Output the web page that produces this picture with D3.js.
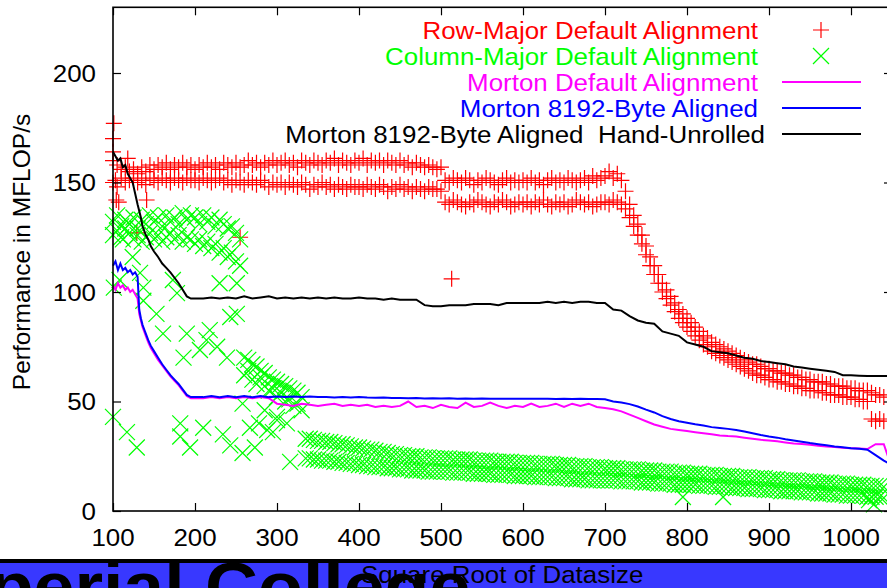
<!DOCTYPE html>
<html>
<head>
<meta charset="utf-8">
<script src="https://cdn.jsdelivr.net/npm/d3@7"></script>
<style>
  body { margin: 0; background: #fff; }
  svg { display: block; font-family: "Liberation Sans", Arial, Helvetica, sans-serif; }
  svg text { white-space: pre; }
</style>
</head>
<body>
<div id="chart"></div>
<script>
// Data
const xTicks = [100, 200, 300, 400, 500, 600, 700, 800, 900, 1000]
const yTicks = [0, 50, 100, 150, 200]

const legendLabels = [
  'Row-Major Default Alignment',
  'Column-Major Default Alignment',
  'Morton Default Alignment',
  'Morton 8192-Byte Aligned',
  'Morton 8192-Byte Aligned  Hand-Unrolled'
]
const legendColors = ['#ff0000', '#00ff00', '#ff00ff', '#0000ff', '#000000']

// sizes for the two point series (every 5)
const pointX = d3.range(100, 1041, 5)

const rowMajorHigh = [
  160,158,156,157,155,156,154,157,155,158,156,158,157,159,156,158,157,159,157,158,
  156,158,157,159,157,158,156,159,158,157,159,157,158,160,158,159,157,159,158,160,
  158,159,160,158,159,157,160,159,158,160,159,158,160,159,161,158,160,159,158,160,
  159,161,158,160,159,160,158,160,159,158,160,158,159,157,159,158,157,158,157,156,
  157,151,150,152,151,150,152,151,149,151,150,152,151,150,149,151,152,150,151,150,
  151,150,152,150,151,149,151,152,150,151,150,152,151,150,151,152,150,153,151,152,
  153,155,152,154,151,146,140,135,131,126,121,116,112,108,104,101,98,95,92,90,
  88,86,84,82,80,79,77,76,75,74,73,72,71,70,69,68,67,67,66,65,
  65,64,64,63,63,62,62,61,61,60,60,59,59,59,58,58,57,57,57,56,
  56,56,55,55,55,54,53,53,52
]
const rowMajorLow = [
  150,148,152,150,151,152,150,151,149,152,151,150,152,151,150,152,151,150,152,151,
  151,150,152,151,150,151,152,150,151,149,151,150,149,151,150,149,151,150,148,150,
  149,150,148,150,149,148,150,149,147,149,148,150,148,149,147,149,148,147,149,148,
  148,147,149,148,147,149,148,146,148,147,149,147,148,146,148,147,146,148,147,147,
  146,141,140,142,141,140,139,141,140,142,141,140,139,141,140,142,141,139,140,141,
  140,141,139,141,140,142,140,139,141,140,141,139,140,142,141,140,141,139,140,141,
  141,140,142,141,140,138,134,130,126,122,117,112,108,104,100,97,94,91,88,86,
  84,82,80,78,76,75,73,72,71,70,69,68,67,66,65,64,63,62,62,61,
  60,60,59,59,58,58,57,57,56,56,55,55,55,54,54,53,53,53,52,52,
  52,51,51,50,50,42,41,42,41
]
const rowMajorOddX = [101, 100, 100, 103, 104, 107, 118, 141, 129, 255, 513]
const rowMajorOddY = [177, 170, 164, 151, 142, 141, 161, 142, 127, 125, 106]

const colMajorHigh = [
  132,135,130,133,131,134,129,133,131,135,132,134,130,135,132,134,131,136,133,135,
  134,131,135,132,134,130,133,131,129,130,127,124,70,69,67,66,64,63,61,60,
  59,58,57,56,55,54,52,33,33,32.5,32,32,31.5,31.5,31,30.5,30.5,30,29.5,29,
  29,28.5,28,28,27.5,27,27,26.5,26,26,25.5,25.5,25,25,25,24.5,24.5,24.5,24,24,
  24,24,24,23.5,23.5,23.5,23.5,23.5,23,23,23,23,23,22.5,22.5,22.5,22.5,22.5,22,22,
  22,22,22,21.5,21.5,21.5,21.5,21.5,21,21,21,21,20.5,20.5,20.5,20.5,20,20,20,20,
  19.5,19.5,19.5,19.5,19,19,19,19,19,18.5,18.5,18.5,18.5,18,18,18,18,17.5,17.5,17.5,
  17,17,17,17,16.5,16.5,16.5,16.5,16,16,16,16,15.5,15.5,15.5,15.5,15,15,15,15,
  14.5,14.5,14.5,14,14,14,14,14,13.5,13.5,13.5,13.5,13,13,13,13,12.5,12.5,12.5,12.5,
  12,12,12,12,11.5,11.5,11.5,11.5,11
]
const colMajorLow = [
  126,128,125,129,127,124,126,123,125,127,124,126,123,125,127,124,126,123,125,124,
  122,124,121,123,120,122,118,120,116,118,114,112,62,64,60,58,61,57,55,56,
  52,54,50,51,48,49,46,24,24,23.5,23.5,23,23,23,22.5,22.5,22,22,21.5,21.5,
  21,21,20.5,20.5,20,20,20,19.5,19.5,19.5,19,19,19,18.5,18.5,18.5,18.5,18,18,18,
  18,18,18,17.5,17.5,17.5,17.5,17.5,17,17,17,17,17,16.5,16.5,16.5,16.5,16.5,16,16,
  16,16,16,15.5,15.5,15.5,15.5,15.5,15,15,15,15,14.5,14.5,14.5,14.5,14,14,14,14,
  14,14,14,14,13.5,13.5,13.5,13.5,13.5,13,13,13,13,12.5,12.5,12.5,12.5,12,12,12,
  12,12,12,11.5,11.5,11.5,11.5,11,11,11,11,10.5,10.5,10.5,10.5,10,10,10,10,9.5,
  9.5,9.5,9.5,9,9,9,9,9,8.5,8.5,8.5,8.5,8,8,8,8,7.5,7.5,7.5,7,
  7,7,7,7,6.5,6.5,6.5,6.5,6
]
const colMajorOddX = [101,100,117,129,182,182,194,210,234,243,258,267,273,288,300,316,
  137,153,178,161,186,190,218,227,230,251,243,239,206,214,108,137,173,112,124,133,
  251,258,285,300,312,278,295,795,844,1022,1028]
const colMajorOddY = [102,43,36,29,40,34,29,38,35,30,26.5,38,29,37,41.5,22.4,
  96,90,99.5,81,70,81,82.6,75,104,104,88.6,70,73.5,78,105.5,102,105.5,124,116,108.7,
  90,49,46,43,40,40,36,6.4,6.4,5,3]

// sizes for the three line series
const lineX = [100,103,106,109,112,115,118,121,124,127,130,132,134,136,138,140,143,146,
  150,155,160,165,170,175,180,185,190,195,200].concat(d3.range(210, 1041, 10), [1045])

const mortonDefault = [
  103,101,104,102,103,101,102,100,101,99,97,90,87,84,82,80,77,74.5,72,69,66.5,64,61.5,59.5,57.5,55,52.5,51.5,51.5,
  51.5,52,51.5,52,51.5,52,51.5,52,51.5,49,
  48.5,48,49,48.5,48,48.5,49,48,48.5,48,
  48.5,47.5,48,47.5,48,50,47.5,48,47,48.5,
  47.5,47,49.5,47.5,48,49.5,48,47,48,47.5,
  49,47.5,48,49,47.5,49,48,49,47.5,47,
  46.5,45.5,44,42.5,41,39.5,38.5,37.5,37,36.5,
  36,35.5,35,34.5,34.2,34,33.5,33,32.5,32.2,
  31.8,31.3,30.8,30.6,30.2,29.8,29.4,29.2,28.9,28.7,
  28.5,28.3,30.5,30.5,
  25
]
const morton8192 = [
  112,114,110,113,110,111,109,110,108,109,107,92,88,85,83,81,78,75.5,73,70,67,64.5,62,60,58,55.5,53,52,52,
  52,52.5,52,52.5,52,52.5,52,52.5,52,52.3,
  52,52.3,52,52.3,52,52,51.8,52,51.8,52,
  51.8,51.7,51.8,51.6,51.6,51.5,51.6,51.4,51.5,51.4,
  51.5,51.3,51.4,51.3,51.4,51.2,51.3,51.2,51.3,51.2,
  51.2,51.3,51.2,51.1,51.2,51.1,51.2,51.1,51.1,51,
  50,49.5,48.8,47.7,46.3,45,43.3,42,41,40.3,
  39.6,39,38.3,37.9,37.5,37,36.3,35.5,34.7,34,
  33.5,32.8,32.2,31.6,31,30.5,30,29.5,29.1,28.7,
  28.4,28,25.5,23,
  22
]
const handUnrolled = [
  164,162,160,161,157,158,154,152,150,145,140,137,134,130,128,126,124,121,118.5,116,113,111,109,106.5,104,101,98,97,97,
  97,97.5,97,97.5,97,98,97,97.5,98,97,
  97.5,97,97.5,97,97.5,97,97.5,97,97,97.5,
  97,97,96.5,97,96.5,96.5,96.5,94,93.5,93.5,
  94,94,94,94.5,94.5,94.5,94,95,95,95,
  95,95,95.5,95,95.5,95,95.5,95.5,95,95,
  92,91.5,89,87,86,85.5,82,81,80,77,
  76,75,73,72.5,72,71,70,69.5,68.5,68,
  67.5,67,66,65.5,65,64.5,64,63.5,62,62,
  61.8,61.6,61.6,61.6,
  61.6
]

// Dimensions
const width = 887
const height = 588
const stretch = 1.08
const font = 24

const svg = d3.select('#chart')
  .append('svg')
  .attr('width', width)
  .attr('height', height)

// Scales
const x = d3.scaleLinear().domain([100, 1050]).range([113, 892])
const y = d3.scaleLinear().domain([0, 230]).range([511, 7.3])

const plusPath = 'M-8,0H8M0,-8V8'
const crossPath = 'M-8,-8L8,8M-8,8L8,-8'

function text(parent, tx, ty, str, anchor) {
  return parent.append('g')
    .attr('transform', `translate(${tx},${ty}) scale(${stretch},1)`)
    .append('text')
    .attr('text-anchor', anchor)
    .attr('font-size', font)
    .text(str)
}

// Points
function points(xs, ys, path, color) {
  svg.append('g')
    .attr('fill', 'none')
    .attr('stroke', color)
    .attr('stroke-width', 1.2)
    .selectAll('path')
    .data(xs.map((d, i) => [d, ys[i]]))
    .join('path')
    .attr('transform', d => `translate(${x(d[0])},${y(d[1])})`)
    .attr('d', path)
}

points(pointX, rowMajorHigh, plusPath, '#ff0000')
points(pointX, rowMajorLow, plusPath, '#ff0000')
points(rowMajorOddX, rowMajorOddY, plusPath, '#ff0000')
points(pointX, colMajorHigh, crossPath, '#00ff00')
points(pointX, colMajorLow, crossPath, '#00ff00')
points(colMajorOddX, colMajorOddY, crossPath, '#00ff00')

// Lines
const line = d3.line()
  .x((d, i) => x(lineX[i]))
  .y(d => y(d))

;[[mortonDefault, '#ff00ff'], [morton8192, '#0000ff'], [handUnrolled, '#000000']].forEach(([vals, color]) => {
  svg.append('path')
    .attr('d', line(vals))
    .attr('fill', 'none')
    .attr('stroke', color)
    .attr('stroke-width', 2)
})

// Frame and ticks
const tickStyle = g => {
  g.select('.domain').remove()
  g.selectAll('.tick line').attr('stroke', '#000').attr('stroke-width', 1.2)
  g.selectAll('.tick text').remove()
}
svg.append('g').attr('transform', `translate(0,${y(0)})`)
  .call(d3.axisBottom(x).tickValues(xTicks).tickSize(-8)).call(tickStyle)
svg.append('g').attr('transform', `translate(0,${y(230)})`)
  .call(d3.axisTop(x).tickValues(xTicks).tickSize(-8)).call(tickStyle)
svg.append('g').attr('transform', `translate(${x(100)},0)`)
  .call(d3.axisLeft(y).tickValues(yTicks).tickSize(-8)).call(tickStyle)
svg.append('g').attr('transform', `translate(${x(1050)},0)`)
  .call(d3.axisRight(y).tickValues(yTicks).tickSize(-8)).call(tickStyle)

svg.append('rect')
  .attr('x', x(100))
  .attr('y', y(230))
  .attr('width', x(1050) - x(100))
  .attr('height', y(0) - y(230))
  .attr('fill', 'none')
  .attr('stroke', '#000')
  .attr('stroke-width', 1.6)

// Tick labels
xTicks.forEach(t => text(svg, x(t), 546, t, 'middle'))
yTicks.forEach(t => text(svg, 96, y(t) + 8.5, t, 'end'))

// Y label
svg.append('text')
  .attr('transform', 'translate(30,252) rotate(-90)')
  .attr('text-anchor', 'middle')
  .attr('font-size', 24.5)
  .text('Performance in MFLOP/s')

// Legend
legendLabels.forEach((label, i) => {
  const cy = 30 + i * 26
  text(svg, i === 4 ? 765 : 758, cy + 8.5, label, 'end').attr('fill', legendColors[i])
  if (i === 0 || i === 1) {
    svg.append('path')
      .attr('transform', `translate(821,${cy})`)
      .attr('d', i === 0 ? plusPath : crossPath)
      .attr('fill', 'none')
      .attr('stroke', legendColors[i])
      .attr('stroke-width', 1.2)
  } else {
    svg.append('line')
      .attr('x1', 782).attr('x2', 861)
      .attr('y1', cy).attr('y2', cy)
      .attr('stroke', legendColors[i])
      .attr('stroke-width', 2)
  }
})

// Banner
svg.append('rect').attr('x', 0).attr('y', 559).attr('width', width).attr('height', 4).attr('fill', '#000')
svg.append('rect').attr('x', 0).attr('y', 563).attr('width', width).attr('height', 25).attr('fill', '#3838ff')
svg.append('g')
  .attr('transform', `translate(-97,610) scale(${stretch},1)`)
  .append('text')
  .attr('font-size', 68)
  .attr('font-weight', 'bold')
  .text('Imperial College')
text(svg, 361, 583, 'Square Root of Datasize', 'start')
</script>
</body>
</html>
